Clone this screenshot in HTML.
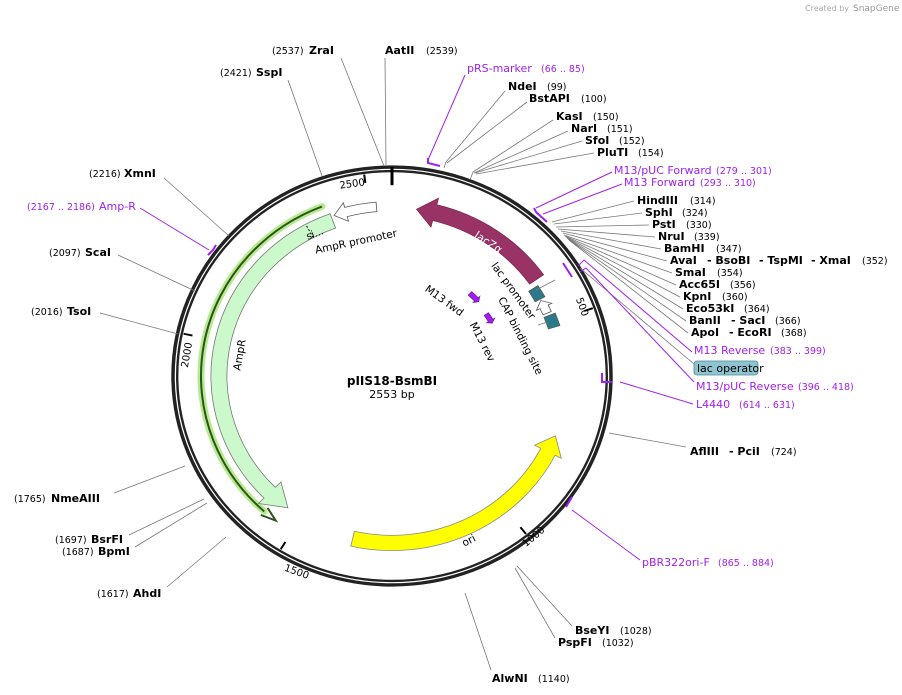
<!DOCTYPE html>
<html><head><meta charset="utf-8"><style>
html,body{margin:0;padding:0;background:#fff;}
svg{display:block;font-family:"DejaVu Sans","Liberation Sans",sans-serif;}
.b{font-weight:bold;font-size:11px;fill:#000}
.n{font-size:9.5px;fill:#000}
.p{font-size:11px;fill:#a020f0}
.pn{font-size:9.5px;fill:#a020f0}
.l{stroke:#777;stroke-width:0.8;fill:none}
.lp{stroke:#a020f0;stroke-width:1;fill:none}
.br{stroke:#a020f0;stroke-width:2;fill:none}
</style></head><body>
<svg width="902" height="695" viewBox="0 0 902 695" xmlns="http://www.w3.org/2000/svg">
<text x="805" y="11" font-size="8" fill="#aaa">Created by</text>
<text x="853" y="11" font-size="9" fill="#999">SnapGene</text>
<g id="geo" transform="translate(392,376) scale(1,0.954)">
<circle r="219" fill="none" stroke="#222" stroke-width="3.5"/>
<circle r="214.8" fill="none" stroke="#222" stroke-width="2.4"/>
</g>
<g>
<line class="l" x1="341" y1="58" x2="384" y2="166"/>
<line class="l" x1="385" y1="58" x2="386" y2="165"/>
<line class="l" x1="288" y1="80" x2="322" y2="176"/>
<line class="l" x1="505" y1="91" x2="446" y2="162"/>
<line class="l" x1="527" y1="102" x2="447" y2="163"/>
<line class="l" x1="553" y1="120" x2="473" y2="172"/>
<line class="l" x1="568" y1="131" x2="474" y2="173"/>
<line class="l" x1="582" y1="141" x2="475" y2="173"/>
<line class="l" x1="594" y1="153" x2="476" y2="174"/>
<line class="l" x1="473" y1="172" x2="470" y2="180"/>
<line class="l" x1="446" y1="162" x2="444" y2="168"/>
<line class="l" x1="634" y1="201" x2="552" y2="222"/>
<line class="l" x1="642" y1="213" x2="554" y2="224"/>
<line class="l" x1="649" y1="225" x2="556" y2="227"/>
<line class="l" x1="655" y1="237" x2="558" y2="229"/>
<line class="l" x1="661" y1="249" x2="561" y2="231"/>
<line class="l" x1="667" y1="261" x2="563" y2="233"/>
<line class="l" x1="672" y1="273" x2="564" y2="235"/>
<line class="l" x1="676" y1="285" x2="565" y2="236"/>
<line class="l" x1="680" y1="297" x2="566" y2="237"/>
<line class="l" x1="683" y1="309" x2="567" y2="238"/>
<line class="l" x1="686" y1="321" x2="568" y2="239"/>
<line class="l" x1="688" y1="333" x2="569" y2="240"/>
<line class="l" x1="694" y1="364" x2="580" y2="268"/>
<line class="l" x1="686" y1="447" x2="609" y2="433"/>
<line class="l" x1="572" y1="626" x2="517" y2="566"/>
<line class="l" x1="555" y1="638" x2="515" y2="568"/>
<line class="l" x1="491" y1="670" x2="465" y2="593"/>
<line class="l" x1="164" y1="178" x2="229" y2="236"/>
<line class="l" x1="118" y1="255" x2="195" y2="291"/>
<line class="l" x1="100" y1="313" x2="178" y2="334"/>
<line class="l" x1="114" y1="493" x2="185" y2="466"/>
<line class="l" x1="129" y1="535" x2="204" y2="499"/>
<line class="l" x1="135" y1="547" x2="207" y2="503"/>
<line class="l" x1="167" y1="587" x2="226" y2="537"/>
<line class="l" x1="555" y1="280" x2="536" y2="290"/>
<line class="l" x1="538" y1="325" x2="548" y2="322"/>
<polyline class="lp" points="465,75 428,160"/>
<polyline class="br" points="428,158 428,163 440,166"/>
<polyline class="lp" points="612,172 536,208"/>
<polyline class="lp" points="622,184 543,214"/>
<polyline class="br" points="534,208 536,212 547,222"/>
<polyline class="lp" points="692,352 584,260 578,266"/>
<polyline class="lp" points="694,382 586,268 580,272"/>
<line class="br" x1="563" y1="263" x2="572" y2="277"/>
<polyline class="lp" points="620,382 693,404"/>
<polyline class="br" points="602,373 602,382 612,382"/>
<polyline class="lp" points="572,510 640,560"/>
<line class="br" x1="566" y1="507" x2="572" y2="497"/>
<polyline class="lp" points="140,208 209,250"/>
<polyline class="br" points="208,255 213,250 216,245"/>
</g>
<text class="n" x="272" y="54">(2537)</text><text class="b" x="309" y="54">ZraI</text>
<text class="b" x="385" y="54">AatII</text><text class="n" x="426" y="54">(2539)</text>
<text class="n" x="220" y="76">(2421)</text><text class="b" x="256" y="76">SspI</text>
<text class="p" x="467" y="72">pRS-marker</text><text class="pn" x="541" y="72">(66 .. 85)</text>
<text class="b" x="508" y="90">NdeI</text><text class="n" x="547" y="90">(99)</text>
<text class="b" x="529" y="102">BstAPI</text><text class="n" x="581" y="102">(100)</text>
<text class="b" x="556" y="120">KasI</text><text class="n" x="593" y="120">(150)</text>
<text class="b" x="571" y="132">NarI</text><text class="n" x="607" y="132">(151)</text>
<text class="b" x="585" y="144">SfoI</text><text class="n" x="619" y="144">(152)</text>
<text class="b" x="597" y="156">PluTI</text><text class="n" x="638" y="156">(154)</text>
<text class="p" x="614" y="174">M13/pUC Forward</text><text class="pn" x="716" y="174">(279 .. 301)</text>
<text class="p" x="624" y="186">M13 Forward</text><text class="pn" x="700" y="186">(293 .. 310)</text>
<text class="b" x="637" y="204">HindIII</text><text class="n" x="690" y="204">(314)</text>
<text class="b" x="645" y="216">SphI</text><text class="n" x="682" y="216">(324)</text>
<text class="b" x="652" y="228">PstI</text><text class="n" x="686" y="228">(330)</text>
<text class="b" x="658" y="240">NruI</text><text class="n" x="694" y="240">(339)</text>
<text class="b" x="664" y="252">BamHI</text><text class="n" x="716" y="252">(347)</text>
<text class="b" x="670" y="264">AvaI</text><text class="b" x="707" y="264">- BsoBI</text><text class="b" x="759" y="264">- TspMI</text><text class="b" x="811" y="264">- XmaI</text><text class="n" x="862" y="264">(352)</text>
<text class="b" x="675" y="276">SmaI</text><text class="n" x="717" y="276">(354)</text>
<text class="b" x="679" y="288">Acc65I</text><text class="n" x="730" y="288">(356)</text>
<text class="b" x="683" y="300">KpnI</text><text class="n" x="722" y="300">(360)</text>
<text class="b" x="686" y="312">Eco53kI</text><text class="n" x="744" y="312">(364)</text>
<text class="b" x="689" y="324">BanII</text><text class="b" x="731" y="324">- SacI</text><text class="n" x="775" y="324">(366)</text>
<text class="b" x="691" y="336">ApoI</text><text class="b" x="729" y="336">- EcoRI</text><text class="n" x="781" y="336">(368)</text>
<text class="p" x="694" y="354">M13 Reverse</text><text class="pn" x="770" y="354">(383 .. 399)</text>
<rect x="694" y="361" width="64" height="14" rx="3" fill="#8ec3cf" stroke="#4a8a99" stroke-width="0.8"/>
<text x="697" y="372" font-size="11" fill="#000">lac operator</text>
<text class="p" x="696" y="390">M13/pUC Reverse</text><text class="pn" x="798" y="390">(396 .. 418)</text>
<text class="p" x="696" y="408">L4440</text><text class="pn" x="739" y="408">(614 .. 631)</text>
<text class="b" x="690" y="455">AflIII</text><text class="b" x="729" y="455">- PciI</text><text class="n" x="771" y="455">(724)</text>
<text class="p" x="642" y="566">pBR322ori-F</text><text class="pn" x="718" y="566">(865 .. 884)</text>
<text class="b" x="575" y="634">BseYI</text><text class="n" x="620" y="634">(1028)</text>
<text class="b" x="558" y="646">PspFI</text><text class="n" x="602" y="646">(1032)</text>
<text class="b" x="492" y="682">AlwNI</text><text class="n" x="538" y="682">(1140)</text>
<text class="n" x="89" y="177">(2216)</text><text class="b" x="124" y="177">XmnI</text>
<text class="pn" x="27" y="210">(2167 .. 2186)</text><text class="p" x="99" y="210">Amp-R</text>
<text class="n" x="49" y="256">(2097)</text><text class="b" x="85" y="256">ScaI</text>
<text class="n" x="31" y="315">(2016)</text><text class="b" x="67" y="315">TsoI</text>
<text class="n" x="14" y="502">(1765)</text><text class="b" x="51" y="502">NmeAIII</text>
<text class="n" x="55" y="543">(1697)</text><text class="b" x="91" y="543">BsrFI</text>
<text class="n" x="62" y="555">(1687)</text><text class="b" x="98" y="555">BpmI</text>
<text class="n" x="97" y="597">(1617)</text><text class="b" x="133" y="597">AhdI</text>
<text x="392" y="385" text-anchor="middle" font-size="12" font-weight="bold">pIIS18-BsmBI</text>
<text x="392" y="398" text-anchor="middle" font-size="11">2553 bp</text>
<text x="352" y="187" font-size="10" text-anchor="middle" transform="rotate(-8 352 183)">2500</text>
<text x="582" y="310" font-size="10" text-anchor="middle" transform="rotate(70 582 307)">500</text>
<text x="533" y="540" font-size="10" text-anchor="middle" transform="rotate(-40 533 536)">1000</text>
<text x="297" y="575" font-size="10" text-anchor="middle" transform="rotate(20 297 571)">1500</text>
<text x="187" y="358" font-size="10" text-anchor="middle" transform="rotate(-80 187 355)">2000</text>
<text x="356" y="245" font-size="10.5" text-anchor="middle" transform="rotate(-12 356 242)">AmpR promoter</text>
<text x="240" y="358" font-size="10.5" text-anchor="middle" transform="rotate(-80 240 355)">AmpR</text>
<text x="315" y="237" font-size="10" text-anchor="middle" transform="rotate(-20 315 234)">si...</text>
<text x="488" y="246" font-size="11" fill="#fff" text-anchor="middle" transform="rotate(33 488 243)">lacZα</text>
<text x="513" y="294" font-size="10.5" text-anchor="middle" transform="rotate(54 513 291)">lac promoter</text>
<text x="520" y="339" font-size="10.5" text-anchor="middle" transform="rotate(63 520 336)">CAP binding site</text>
<text x="444" y="304" font-size="10.5" text-anchor="middle" transform="rotate(36 444 301)">M13 fwd</text>
<text x="482" y="345" font-size="10.5" text-anchor="middle" transform="rotate(63 482 342)">M13 rev</text>
<text x="469" y="544" font-size="10.5" text-anchor="middle" transform="rotate(-27 469 541)">ori</text>
</svg>
<script>
(function(){
var g=document.getElementById('geo');var NS='http://www.w3.org/2000/svg';
function pt(r,a){a*=Math.PI/180;return (r*Math.sin(a)).toFixed(2)+','+(-r*Math.cos(a)).toFixed(2);}
function add(tag,attrs){var e=document.createElementNS(NS,tag);for(var k in attrs)e.setAttribute(k,attrs[k]);g.appendChild(e);return e;}
function arc(r,a1,a2){var sw=a2>a1?1:0,lg=Math.abs(a2-a1)>180?1:0;return 'M'+pt(r,a1)+' A'+r+','+r+' 0 '+lg+' '+sw+' '+pt(r,a2);}
function arrow(a1,a2,ri,ro,hi,ho,hl,fill,stroke){
 var d=a2>a1?1:-1,ab=a2-d*hl,rm=(ri+ro)/2,sw=d>0?1:0,lg=Math.abs(ab-a1)>180?1:0;
 var p='M'+pt(ro,a1)+' A'+ro+','+ro+' 0 '+lg+' '+sw+' '+pt(ro,ab)+' L'+pt(ho,ab)+' L'+pt(rm,a2)+' L'+pt(hi,ab)+' L'+pt(ri,ab)+' A'+ri+','+ri+' 0 '+lg+' '+(1-sw)+' '+pt(ri,a1)+' Z';
 add('path',{d:p,fill:fill,stroke:stroke||'#777','stroke-width':0.8});
}
add('path',{d:arc(191,-21.5,-138),fill:'none',stroke:'#b4ec8c','stroke-width':7,'stroke-linecap':'round'});
add('path',{d:arc(191,-21.5,-138),fill:'none',stroke:'#2f4f1f','stroke-width':2});
add('path',{d:'M'+pt(186,-138)+' L'+pt(191,-142.5)+' L'+pt(196,-138),fill:'none',stroke:'#2f4f1f','stroke-width':2});
arrow(-20,-143,165,181,157,189,8,'#ccf9cc','#777');
add('path',{d:'M'+pt(165,-28.5)+' L'+pt(181,-28.5),stroke:'#000','stroke-width':1,'stroke-dasharray':'2,2',fill:'none'});
arrow(-5,-19,173,183,168,188,4,'#fff','#555');
arrow(55,8,168,185,161,192,6,'#993366','#7a2850');
arrow(193,111,167,183,160,190,6,'#ffff00','#888');
arrow(57,61.5,163,174,163,174,0.01,'#2b7a8c','#555');
arrow(68,72.5,164,176,164,176,0.01,'#2b7a8c','#555');
arrow(67,62,164,173,160,177,2.5,'#fff','#555');
arrow(42,48,114,119,112,121,1.5,'#a020f0','#7010b0');
arrow(55.5,61,112,117,110,119,1.5,'#a020f0','#7010b0');
add('path',{d:'M'+pt(219,0)+' L'+pt(200,0),stroke:'#000','stroke-width':3});
[352.5,70.5,141,211.5,282].forEach(function(a){add('path',{d:'M'+pt(213,a)+' L'+pt(204,a),stroke:'#000','stroke-width':2});});
})();
</script>
</body></html>
